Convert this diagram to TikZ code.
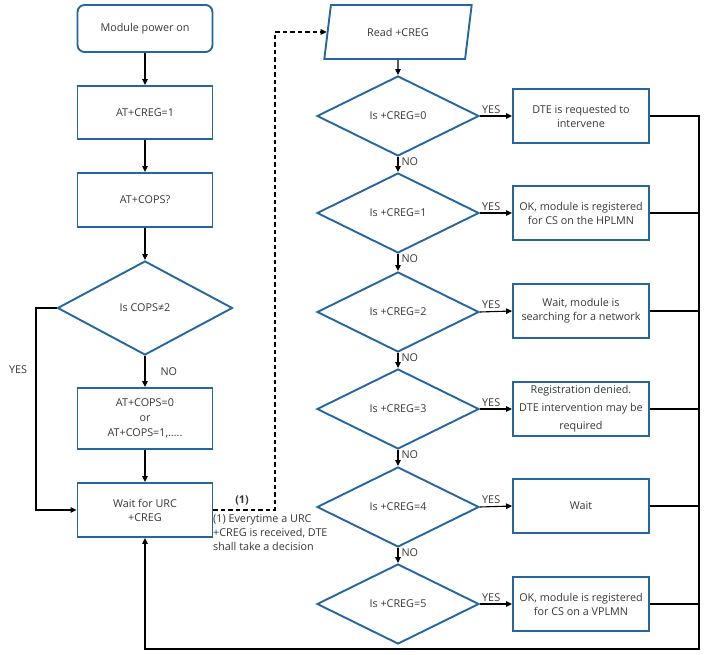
\documentclass[tikz,border=0pt]{standalone}
\usepackage{fontspec}
\setmainfont{Open Sans}
\usetikzlibrary{shapes.geometric,arrows.meta}
\definecolor{boxblue}{RGB}{36,103,160}
\definecolor{txt}{RGB}{55,55,55}
\begin{document}
\begin{tikzpicture}[x=1pt,y=-1pt,
  every node/.style={text=txt,font=\fontsize{10.8}{14}\selectfont},
  procbox/.style={draw=boxblue,line width=1.9pt,rectangle,minimum width=135pt,minimum height=54pt,align=center,inner sep=2pt},
  startbox/.style={procbox,rounded corners=7pt,minimum height=47pt},
  decision/.style={draw=boxblue,line width=1.9pt,diamond,minimum width=162pt,minimum height=80pt,inner sep=0pt,align=center},
  iobox/.style={draw=boxblue,line width=1.9pt,trapezium,trapezium left angle=70,trapezium right angle=110,trapezium stretches=true,minimum width=148pt,minimum height=54pt,inner sep=0pt},
  resbox/.style={procbox,minimum width=136pt},
  conn/.style={black,line width=1.1pt},
  arr/.style={conn,-{Triangle[length=6pt,width=5.5pt]}},
  lbl/.style={inner sep=1pt}
]
\useasboundingbox (0,0) rectangle (704,655);
% left column
\node[startbox] (power) at (145,28.5) {Module power on};
\node[procbox,minimum height=53pt] (creg1) at (145,112.5) {AT+CREG=1};
\node[procbox] (cops) at (145,200) {AT+COPS?};
\node[decision,minimum width=175pt,minimum height=94pt] (dcops) at (145,308) {Is COPS≠2};
\node[procbox,minimum height=61pt,font=\fontsize{10.8}{15}\selectfont] (copsset) at (145,418.5) {AT+COPS=0\\or\\AT+COPS=1,…..};
\node[procbox] (wait) at (145,510) {Wait for URC\\+CREG};
\coordinate (yesl) at (36,308);
\coordinate (dashc) at (275,510);
\coordinate (bc) at (699,649);

\draw[arr] (power) -- (creg1);
\draw[arr] (creg1) -- (cops);
\draw[arr] (cops) -- (dcops);
\draw[arr] (dcops) -- node[lbl,right,pos=0.5,xshift=14pt] {NO} (copsset);
\draw[arr] (copsset) -- (wait);
\draw[arr] (dcops.west) -- (yesl) |- (wait.west);
\node[lbl] (yeslbl) at (18,370) {YES};

% right column
\node[iobox] (read) at (398,32) {Read +CREG};
\foreach \i/\y in {0/116,1/213,2/312,3/409,4/507,5/604}{
  \node[decision] (d\i) at (398,\y) {Is +CREG=\i};
}
\node[resbox] (b0) at (581,116) {DTE is requested to\\intervene};
\node[resbox] (b1) at (581,213) {OK, module is registered\\for CS on the HPLMN};
\node[resbox] (b2) at (581,311) {Wait, module is\\searching for a network};
\node[resbox,font=\fontsize{10.8}{18}\selectfont] (b3) at (581,409) {Registration denied.\\DTE intervention may be\\required};
\node[resbox] (b4) at (581,506) {Wait};
\node[resbox] (b5) at (581,604) {OK, module is registered\\for CS on a VPLMN};

\draw[arr] (read.south) -- (d0.north);
\foreach \i/\j in {0/1,1/2,2/3,3/4,4/5}{
  \draw[arr] (d\i.south) -- node[lbl,right,pos=0.3,xshift=2pt] {NO} (d\j.north);
}
\foreach \i in {0,...,5}{
  \draw[arr] (d\i.east) -- node[lbl,above,pos=0.35,yshift=1pt] {YES} (b\i.west);
}
\foreach \i in {1,...,5}{
  \draw[conn] (b\i.east) -- (b\i.east -| bc);
}
\draw[arr] (b0.east) -| (bc) -| (wait.south);

% dashed link
\draw[conn,dash pattern=on 4.5pt off 3pt,-{Triangle[length=6pt,width=5.5pt]}] (wait.east) -- (dashc) |- (read.west);
\node[lbl,font=\bfseries\fontsize{10.8}{14}\selectfont] (one) at (242,500) {(1)};
\node[lbl,anchor=north west,align=left,font=\fontsize{10.8}{14}\selectfont] (note) at (212,513) {(1) Everytime a URC\\+CREG is received, DTE\\shall take a decision};
\end{tikzpicture}
\end{document}
